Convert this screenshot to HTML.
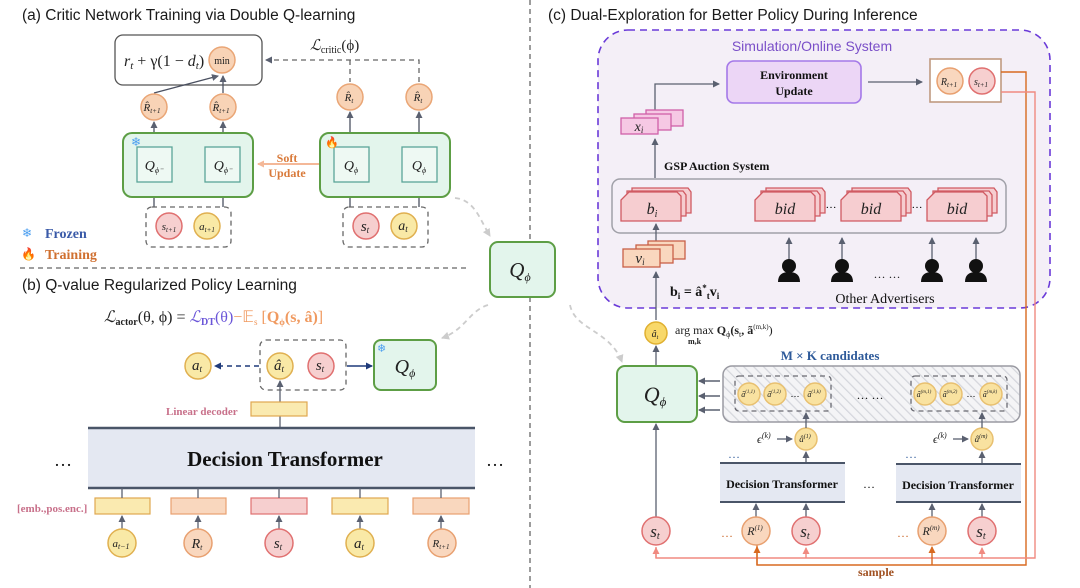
<!DOCTYPE html>
<html><head><meta charset="utf-8"><style>
html,body{margin:0;padding:0;background:#fff;}
svg{display:block;}
.t{font-family:"Liberation Sans",sans-serif;font-size:15.5px;fill:#1a1a1a;}
.m{font-family:"Liberation Serif",serif;font-style:italic;fill:#222;}
.b{font-family:"Liberation Serif",serif;font-weight:bold;fill:#111;}
</style></head><body>
<svg width="1080" height="588" viewBox="0 0 1080 588" xmlns="http://www.w3.org/2000/svg">
<defs>
<marker id="ag" markerWidth="8" markerHeight="8" refX="6" refY="4" orient="auto" markerUnits="userSpaceOnUse"><path d="M0,0.5 L7,4 L0,7.5 z" fill="#5a6070"/></marker>
<marker id="an" markerWidth="8" markerHeight="8" refX="6" refY="4" orient="auto" markerUnits="userSpaceOnUse"><path d="M0,0.5 L7,4 L0,7.5 z" fill="#1f3a7a"/></marker>
<marker id="ao" markerWidth="8" markerHeight="8" refX="6" refY="4" orient="auto" markerUnits="userSpaceOnUse"><path d="M0,0.5 L7,4 L0,7.5 z" fill="#f4b898"/></marker>
<marker id="al" markerWidth="10" markerHeight="10" refX="7" refY="5" orient="auto" markerUnits="userSpaceOnUse"><path d="M0,1 L8,5 L0,9 z" fill="#ccc"/></marker>
<marker id="ap" markerWidth="8" markerHeight="8" refX="6" refY="4" orient="auto" markerUnits="userSpaceOnUse"><path d="M0,0.5 L7,4 L0,7.5 z" fill="#f08a80"/></marker>
<marker id="ar" markerWidth="8" markerHeight="8" refX="6" refY="4" orient="auto" markerUnits="userSpaceOnUse"><path d="M0,0.5 L7,4 L0,7.5 z" fill="#d86a20"/></marker>
<pattern id="hatch" width="7" height="7" patternUnits="userSpaceOnUse" patternTransform="rotate(-45)"><rect width="7" height="7" fill="#f4f4f6"/><line x1="0" y1="0" x2="0" y2="7" stroke="#d4d6dc" stroke-width="2.5"/></pattern>
</defs>

<line x1="530" y1="0" x2="530" y2="588" stroke="#666" stroke-width="1.3" stroke-dasharray="5,4"/>
<line x1="20" y1="268" x2="468" y2="268" stroke="#666" stroke-width="1.3" stroke-dasharray="5,4"/>

<text class="t" x="22" y="20">(a) Critic Network Training via Double Q-learning</text>
<rect x="115" y="35" width="147" height="50" rx="8" fill="#fff" stroke="#555" stroke-width="1.3"/>
<text class="m" x="124" y="66" font-size="16">r<tspan font-size="11" dy="3">t</tspan><tspan dy="-3" font-style="normal"> + γ(1 − </tspan>d<tspan font-size="11" dy="3">t</tspan><tspan dy="-3" font-style="normal">)</tspan></text>
<circle cx="222" cy="60" r="13" fill="#f8d3b6" stroke="#eaa676" stroke-width="1.5"/>
<text x="222" y="64" text-anchor="middle" font-family="Liberation Serif" font-size="10" fill="#222">min</text>
<path d="M419,82 V60 H266" fill="none" stroke="#666" stroke-width="1.3" stroke-dasharray="5,4" marker-end="url(#ag)"/>
<line x1="350" y1="60" x2="350" y2="82" stroke="#666" stroke-width="1.3" stroke-dasharray="5,4"/>
<text class="m" x="310" y="50" font-size="15">ℒ<tspan font-style="normal" font-size="10" dy="3">critic</tspan><tspan dy="-3" font-style="normal">(ϕ)</tspan></text>
<line x1="154" y1="93" x2="218" y2="76" stroke="#4a5060" stroke-width="1.3" marker-end="url(#ag)"/>
<line x1="223" y1="93" x2="223" y2="76" stroke="#4a5060" stroke-width="1.3" marker-end="url(#ag)"/>
<g fill="#f8d3b6" stroke="#eaa676" stroke-width="1.5">
<circle cx="154" cy="107" r="13"/><circle cx="223" cy="107" r="13"/><circle cx="350" cy="97" r="13"/><circle cx="419" cy="97" r="13"/></g>
<g class="m" font-size="11" text-anchor="middle">
<text x="152" y="111">R̂<tspan font-size="7" dy="2">t+1</tspan></text>
<text x="221" y="111">R̂<tspan font-size="7" dy="2">t+1</tspan></text>
<text x="349" y="101">R̂<tspan font-size="7" dy="2">t</tspan></text>
<text x="418" y="101">R̂<tspan font-size="7" dy="2">t</tspan></text></g>
<g stroke="#4a5060" stroke-width="1.3">
<line x1="154" y1="147" x2="154" y2="122" marker-end="url(#ag)"/><line x1="223" y1="147" x2="223" y2="122" marker-end="url(#ag)"/>
<line x1="350" y1="147" x2="350" y2="112" marker-end="url(#ag)"/><line x1="419" y1="147" x2="419" y2="112" marker-end="url(#ag)"/>
<line x1="154" y1="207" x2="154" y2="184" marker-end="url(#ag)"/><line x1="223" y1="207" x2="223" y2="184" marker-end="url(#ag)"/>
<line x1="350" y1="207" x2="350" y2="184" marker-end="url(#ag)"/><line x1="419" y1="207" x2="419" y2="184" marker-end="url(#ag)"/></g>
<rect x="123" y="133" width="130" height="64" rx="9" fill="#e3f5ec" stroke="#5d9e45" stroke-width="2"/>
<rect x="320" y="133" width="130" height="64" rx="9" fill="#e3f5ec" stroke="#5d9e45" stroke-width="2"/>
<g fill="#eef9f3" stroke="#5aa598" stroke-width="1.3">
<rect x="137" y="147" width="35" height="35"/><rect x="205" y="147" width="35" height="35"/><rect x="334" y="147" width="35" height="35"/><rect x="402" y="147" width="35" height="35"/></g>
<g class="m" font-size="14" text-anchor="middle">
<text x="154" y="170">Q<tspan font-size="8" dy="3">ϕ⁻</tspan></text><text x="223" y="170">Q<tspan font-size="8" dy="3">ϕ⁻</tspan></text>
<text x="351" y="170">Q<tspan font-size="8" dy="3">ϕ</tspan></text><text x="419" y="170">Q<tspan font-size="8" dy="3">ϕ</tspan></text></g>
<text x="131" y="146" font-size="12" fill="#4a9ef0">❄</text>
<text x="325" y="146" font-size="11">🔥</text>
<line x1="319" y1="164" x2="258" y2="164" stroke="#f4b898" stroke-width="2" marker-end="url(#ao)"/>
<text class="b" x="287" y="162" font-size="12" text-anchor="middle" style="fill:#d97a3a">Soft</text>
<text class="b" x="287" y="177" font-size="12" text-anchor="middle" style="fill:#d97a3a">Update</text>
<rect x="146" y="207" width="85" height="40" rx="6" fill="none" stroke="#666" stroke-width="1.3" stroke-dasharray="5,4"/>
<rect x="343" y="207" width="85" height="40" rx="6" fill="none" stroke="#666" stroke-width="1.3" stroke-dasharray="5,4"/>
<circle cx="169" cy="226" r="13" fill="#f6cfcf" stroke="#e07070" stroke-width="1.5"/>
<circle cx="207" cy="226" r="13" fill="#f9e9a6" stroke="#e0b050" stroke-width="1.5"/>
<circle cx="366" cy="226" r="13" fill="#f6cfcf" stroke="#e07070" stroke-width="1.5"/>
<circle cx="404" cy="226" r="13" fill="#f9e9a6" stroke="#e0b050" stroke-width="1.5"/>
<g class="m" text-anchor="middle"><text x="169" y="230" font-size="11">s<tspan font-size="7" dy="2">t+1</tspan></text><text x="207" y="230" font-size="11">a<tspan font-size="7" dy="2">t+1</tspan></text>
<text x="365" y="231" font-size="15">s<tspan font-size="9" dy="2">t</tspan></text><text x="403" y="230" font-size="14">a<tspan font-size="9" dy="2">t</tspan></text></g>
<text x="22" y="237" font-size="12" fill="#4a9ef0">❄</text>
<text class="b" x="45" y="238" font-size="14" style="fill:#3a5aa8">Frozen</text>
<text x="21" y="258" font-size="12">🔥</text>
<text class="b" x="45" y="259" font-size="14" style="fill:#d07030">Training</text>

<text class="t" x="22" y="290">(b) Q-value Regularized Policy Learning</text>
<text class="m" x="104" y="322" font-size="16">ℒ<tspan font-style="normal" font-size="10" dy="3" font-weight="bold">actor</tspan><tspan dy="-3" font-style="normal">(θ, ϕ) = </tspan><tspan style="fill:#6a55d8">ℒ<tspan font-style="normal" font-size="10" dy="3" font-weight="bold">DT</tspan><tspan dy="-3" font-style="normal">(θ)</tspan></tspan><tspan style="fill:#f09a60" font-style="normal">−𝔼<tspan font-size="9" dy="3">s</tspan><tspan dy="-3"> [</tspan><tspan font-weight="bold">Q<tspan font-size="9" dy="3">ϕ</tspan><tspan dy="-3">(s, â)</tspan></tspan>]</tspan></text>
<rect x="260" y="340" width="86" height="50" rx="6" fill="none" stroke="#666" stroke-width="1.3" stroke-dasharray="5,4"/>
<line x1="259" y1="366" x2="215" y2="366" stroke="#1f3a7a" stroke-width="1.5" stroke-dasharray="5,4" marker-end="url(#an)"/>
<line x1="347" y1="366" x2="372" y2="366" stroke="#1f3a7a" stroke-width="1.5" marker-end="url(#an)"/>
<circle cx="198" cy="366" r="13" fill="#f9e9a6" stroke="#e0b050" stroke-width="1.5"/>
<circle cx="280" cy="366" r="13" fill="#f9e9a6" stroke="#e0b050" stroke-width="1.5"/>
<circle cx="321" cy="366" r="13" fill="#f6cfcf" stroke="#e07070" stroke-width="1.5"/>
<g class="m" text-anchor="middle" font-size="15"><text x="197" y="370">a<tspan font-size="9" dy="2">t</tspan></text><text x="279" y="370">â<tspan font-size="9" dy="2">t</tspan></text><text x="320" y="370">s<tspan font-size="9" dy="2">t</tspan></text></g>
<rect x="374" y="340" width="62" height="50" rx="7" fill="#e3f5ec" stroke="#5d9e45" stroke-width="2"/>
<text x="377" y="352" font-size="11" fill="#4a9ef0">❄</text>
<text class="m" x="405" y="373" font-size="20" text-anchor="middle">Q<tspan font-size="12" dy="4">ϕ</tspan></text>
<line x1="280" y1="428" x2="280" y2="381" stroke="#5a6070" stroke-width="1.3" marker-end="url(#ag)"/>
<rect x="251" y="402" width="56" height="14" fill="#faeab0" stroke="#e0a850" stroke-width="1.2"/>
<text class="b" x="166" y="415" font-size="11" style="fill:#c8708a">Linear decoder</text>
<rect x="88" y="428" width="387" height="60" fill="#e4e8f2"/>
<line x1="88" y1="428" x2="475" y2="428" stroke="#4a5568" stroke-width="2.5"/>
<line x1="88" y1="488" x2="475" y2="488" stroke="#4a5568" stroke-width="2.5"/>
<text class="b" x="285" y="466" font-size="21" text-anchor="middle">Decision Transformer</text>
<text x="63" y="466" font-size="18" text-anchor="middle" fill="#111">…</text>
<text x="495" y="466" font-size="18" text-anchor="middle" fill="#111">…</text>
<text class="b" x="17" y="512" font-size="11" style="fill:#c8708a">[emb.,pos.enc.]</text>
<g stroke-width="1.2">
<rect x="95" y="498" width="55" height="16" fill="#faeab0" stroke="#e0a850"/>
<rect x="171" y="498" width="55" height="16" fill="#f9d7be" stroke="#e8a070"/>
<rect x="251" y="498" width="56" height="16" fill="#f6cfcf" stroke="#e07070"/>
<rect x="332" y="498" width="56" height="16" fill="#faeab0" stroke="#e0a850"/>
<rect x="413" y="498" width="56" height="16" fill="#f9d7be" stroke="#e8a070"/></g>
<g stroke="#5a6070" stroke-width="1.3">
<line x1="122" y1="488" x2="122" y2="498"/><line x1="198" y1="488" x2="198" y2="498"/><line x1="279" y1="488" x2="279" y2="498"/><line x1="360" y1="488" x2="360" y2="498"/><line x1="441" y1="488" x2="441" y2="498"/>
<line x1="122" y1="529" x2="122" y2="516" marker-end="url(#ag)"/><line x1="198" y1="529" x2="198" y2="516" marker-end="url(#ag)"/><line x1="279" y1="529" x2="279" y2="516" marker-end="url(#ag)"/><line x1="360" y1="529" x2="360" y2="516" marker-end="url(#ag)"/><line x1="441" y1="529" x2="441" y2="516" marker-end="url(#ag)"/></g>
<circle cx="122" cy="543" r="14" fill="#f9e9a6" stroke="#e0b050" stroke-width="1.5"/>
<circle cx="198" cy="543" r="14" fill="#f9d7be" stroke="#e8a070" stroke-width="1.5"/>
<circle cx="279" cy="543" r="14" fill="#f6cfcf" stroke="#e07070" stroke-width="1.5"/>
<circle cx="360" cy="543" r="14" fill="#f9e9a6" stroke="#e0b050" stroke-width="1.5"/>
<circle cx="442" cy="543" r="14" fill="#f9d7be" stroke="#e8a070" stroke-width="1.5"/>
<g class="m" text-anchor="middle"><text x="121" y="547" font-size="11">a<tspan font-size="8" dy="2">t−1</tspan></text><text x="197" y="548" font-size="14">R<tspan font-size="8" dy="2">t</tspan></text><text x="278" y="548" font-size="15">s<tspan font-size="9" dy="2">t</tspan></text><text x="359" y="548" font-size="15">a<tspan font-size="9" dy="2">t</tspan></text><text x="441" y="547" font-size="11">R<tspan font-size="7" dy="2">t+1</tspan></text></g>

<rect x="490" y="242" width="65" height="55" rx="8" fill="#e3f5ec" stroke="#5d9e45" stroke-width="2"/>
<text class="m" x="520" y="277" font-size="21" text-anchor="middle">Q<tspan font-size="12" dy="4">ϕ</tspan></text>
<path d="M455,198 C475,200 480,220 490,236" fill="none" stroke="#ccc" stroke-width="1.8" stroke-dasharray="5,4" marker-end="url(#al)"/>
<path d="M488,305 C470,310 465,330 442,338" fill="none" stroke="#ccc" stroke-width="1.8" stroke-dasharray="5,4" marker-end="url(#al)"/>
<path d="M570,305 C575,330 610,330 622,362" fill="none" stroke="#ccc" stroke-width="1.8" stroke-dasharray="5,4" marker-end="url(#al)"/>

<text class="t" x="548" y="20">(c) Dual-Exploration for Better Policy During Inference</text>
<rect x="598" y="30" width="452" height="278" rx="30" fill="#f4eff7" stroke="#6a3ad8" stroke-width="1.6" stroke-dasharray="7,5"/>
<text x="812" y="51" font-family="Liberation Sans" font-size="14" text-anchor="middle" fill="#7a4fc8">Simulation/Online System</text>
<rect x="727" y="61" width="134" height="42" rx="7" fill="#ecd6f6" stroke="#a478e8" stroke-width="1.6"/>
<text class="b" x="794" y="79" font-size="12" text-anchor="middle">Environment</text>
<text class="b" x="794" y="95" font-size="12" text-anchor="middle">Update</text>
<line x1="868" y1="82" x2="922" y2="82" stroke="#5a6070" stroke-width="1.3" marker-end="url(#ag)"/>
<rect x="930" y="59" width="71" height="43" fill="#fff" stroke="#c09a80" stroke-width="1.6"/>
<circle cx="950" cy="81" r="13" fill="#f9d7be" stroke="#e8a070" stroke-width="1.5"/>
<circle cx="982" cy="81" r="13" fill="#f6cfcf" stroke="#e07070" stroke-width="1.5"/>
<g class="m" text-anchor="middle" font-size="10"><text x="949" y="85">R<tspan font-size="7" dy="2">t+1</tspan></text><text x="981" y="85">s<tspan font-size="7" dy="2">t+1</tspan></text></g>
<path d="M1001,72 H1026 V565 H757 V540" fill="none" stroke="#d86a20" stroke-width="1.4"/>
<path d="M1001,92 H1035 V558 H656 V547" fill="none" stroke="#f08a80" stroke-width="1.4"/>
<line x1="806" y1="558" x2="806" y2="548" stroke="#f08a80" stroke-width="1.4" marker-end="url(#ap)"/>
<line x1="982" y1="558" x2="982" y2="548" stroke="#f08a80" stroke-width="1.4" marker-end="url(#ap)"/>
<line x1="656" y1="558" x2="656" y2="548" stroke="#f08a80" stroke-width="1.4" marker-end="url(#ap)"/>
<line x1="757" y1="565" x2="757" y2="547" stroke="#d86a20" stroke-width="1.4" marker-end="url(#ar)"/>
<line x1="932" y1="565" x2="932" y2="547" stroke="#d86a20" stroke-width="1.4" marker-end="url(#ar)"/>
<text class="b" x="876" y="576" font-size="12" text-anchor="middle" style="fill:#a05020">sample</text>
<path d="M655,115 V84 H719" fill="none" stroke="#5a6070" stroke-width="1.3" marker-end="url(#ag)"/>
<g fill="#f6c8e4" stroke="#d060a8" stroke-width="1.3"><rect x="646" y="110" width="37" height="16"/><rect x="634" y="114" width="37" height="16"/><rect x="621" y="118" width="37" height="16"/></g>
<text class="m" x="639" y="131" font-size="14" text-anchor="middle">x<tspan font-size="9" dy="2">i</tspan></text>
<line x1="655" y1="178" x2="655" y2="139" stroke="#5a6070" stroke-width="1.3" marker-end="url(#ag)"/>
<text class="b" x="664" y="170" font-size="12">GSP Auction System</text>
<rect x="612" y="179" width="394" height="54" rx="8" fill="#f4eff7" stroke="#a0a0a8" stroke-width="1.5"/>
<g fill="#f6cdd0" stroke="#d05a62" stroke-width="1.3">
<g id="card"><path d="M632,188 H688 L691,192 V213 H632 Z"/><path d="M627,191 H683 L686,195 V216 H627 Z"/><path d="M625,196 L629,192 H677 L681,196 V221 H621 V200 Z"/></g>
<use href="#card" x="134"/><use href="#card" x="220"/><use href="#card" x="306"/></g>
<g class="m" text-anchor="middle" font-size="16"><text x="652" y="214">b<tspan font-size="10" dy="3">i</tspan></text><text x="785" y="214">bid</text><text x="871" y="214">bid</text><text x="957" y="214">bid</text></g>
<text x="831" y="208" font-size="11" text-anchor="middle">…</text><text x="917" y="208" font-size="11" text-anchor="middle">…</text>
<g stroke="#5a6070" stroke-width="1.3">
<line x1="789" y1="262" x2="789" y2="238" marker-end="url(#ag)"/><line x1="842" y1="262" x2="842" y2="238" marker-end="url(#ag)"/><line x1="932" y1="262" x2="932" y2="238" marker-end="url(#ag)"/><line x1="976" y1="262" x2="976" y2="238" marker-end="url(#ag)"/>
<line x1="656" y1="243" x2="656" y2="224" marker-end="url(#ag)"/></g>
<g fill="#111">
<g id="person"><circle cx="789" cy="266" r="7"/><path d="M778,282 Q778,272 789,272 Q800,272 800,282 Z"/></g>
<use href="#person" x="53"/><use href="#person" x="143"/><use href="#person" x="187"/></g>
<text x="887" y="278" font-size="12" text-anchor="middle" fill="#111">… …</text>
<g fill="#f9d7be" stroke="#c86048" stroke-width="1.3"><rect x="648" y="241" width="37" height="18"/><rect x="636" y="245" width="37" height="18"/><rect x="623" y="249" width="37" height="18"/></g>
<text class="m" x="640" y="263" font-size="15" text-anchor="middle">v<tspan font-size="9" dy="2">i</tspan></text>
<text class="b" x="670" y="296" font-size="14">b<tspan font-size="9" dy="3">i</tspan><tspan dy="-3"> = â</tspan><tspan font-size="9" dy="-5">*</tspan><tspan font-size="9" dy="8">t</tspan><tspan dy="-3">v</tspan><tspan font-size="9" dy="3">i</tspan></text>
<text x="885" y="303" font-family="Liberation Serif" font-size="14" text-anchor="middle" fill="#111">Other Advertisers</text>
<line x1="656" y1="320" x2="656" y2="272" stroke="#5a6070" stroke-width="1.3" marker-end="url(#ag)"/>
<circle cx="656" cy="333" r="11" fill="#f8d86a" stroke="#e0b030" stroke-width="1.5"/>
<text class="m" x="655" y="337" font-size="10" text-anchor="middle">â<tspan font-size="6" dy="2">t</tspan></text>
<text x="675" y="334" font-family="Liberation Serif" font-size="12" fill="#222">arg max <tspan font-weight="bold">Q</tspan><tspan font-size="8" dy="3">ϕ</tspan><tspan dy="-3" font-weight="bold">(s</tspan><tspan font-size="8" dy="3">t</tspan><tspan dy="-3" font-weight="bold">, ã</tspan><tspan font-size="7" dy="-5">(m,k)</tspan><tspan dy="5">)</tspan></text>
<text x="688" y="344" font-family="Liberation Serif" font-weight="bold" font-size="8" fill="#222">m,k</text>
<line x1="656" y1="366" x2="656" y2="346" stroke="#5a6070" stroke-width="1.3" marker-end="url(#ag)"/>
<rect x="617" y="366" width="80" height="56" rx="8" fill="#e3f5ec" stroke="#5d9e45" stroke-width="2"/>
<text class="m" x="655" y="402" font-size="22" text-anchor="middle">Q<tspan font-size="13" dy="4">ϕ</tspan></text>
<line x1="656" y1="517" x2="656" y2="424" stroke="#5a6070" stroke-width="1.3" marker-end="url(#ag)"/>
<text class="b" x="830" y="360" font-size="13" text-anchor="middle" style="fill:#2e5a9a">M × K candidates</text>
<rect x="723" y="366" width="297" height="56" rx="9" fill="url(#hatch)" stroke="#9a9aa2" stroke-width="1.5"/>
<g stroke="#5a6070" stroke-width="1.5"><line x1="720" y1="381" x2="699" y2="381" marker-end="url(#ag)"/><line x1="720" y1="396" x2="699" y2="396" marker-end="url(#ag)"/><line x1="720" y1="410" x2="699" y2="410" marker-end="url(#ag)"/></g>
<rect x="735" y="376" width="96" height="35" rx="4" fill="none" stroke="#6a6a72" stroke-width="1.3" stroke-dasharray="5,4"/>
<rect x="911" y="376" width="96" height="35" rx="4" fill="none" stroke="#6a6a72" stroke-width="1.3" stroke-dasharray="5,4"/>
<g fill="#f9e2a0" stroke="#e8c070" stroke-width="1.5">
<circle cx="749" cy="394" r="11"/><circle cx="775" cy="394" r="11"/><circle cx="815" cy="394" r="11"/>
<circle cx="925" cy="394" r="11"/><circle cx="951" cy="394" r="11"/><circle cx="991" cy="394" r="11"/>
<circle cx="806" cy="439" r="11"/><circle cx="982" cy="439" r="11"/></g>
<g class="m" font-size="8" text-anchor="middle">
<text x="748" y="397">ã<tspan font-size="5" dy="-4">(1,1)</tspan></text><text x="774" y="397">ã<tspan font-size="5" dy="-4">(1,2)</tspan></text><text x="814" y="397">ã<tspan font-size="5" dy="-4">(1,k)</tspan></text>
<text x="924" y="397">ã<tspan font-size="5" dy="-4">(m,1)</tspan></text><text x="950" y="397">ã<tspan font-size="5" dy="-4">(m,2)</tspan></text><text x="990" y="397">ã<tspan font-size="5" dy="-4">(m,k)</tspan></text>
<text x="805" y="442" font-size="9">â<tspan font-size="6" dy="-4">(1)</tspan></text><text x="981" y="442" font-size="9">â<tspan font-size="6" dy="-4">(m)</tspan></text></g>
<text x="795" y="397" font-size="9" text-anchor="middle">…</text><text x="971" y="397" font-size="9" text-anchor="middle">…</text>
<text x="870" y="399" font-size="12" text-anchor="middle">… …</text>
<g stroke="#5a6070" stroke-width="1.3">
<line x1="806" y1="428" x2="806" y2="413" marker-end="url(#ag)"/><line x1="982" y1="428" x2="982" y2="413" marker-end="url(#ag)"/>
<line x1="806" y1="463" x2="806" y2="452" marker-end="url(#ag)"/><line x1="982" y1="463" x2="982" y2="452" marker-end="url(#ag)"/>
<line x1="777" y1="439" x2="792" y2="439" marker-end="url(#ag)"/><line x1="953" y1="439" x2="968" y2="439" marker-end="url(#ag)"/>
<line x1="756" y1="517" x2="756" y2="504" marker-end="url(#ag)"/><line x1="806" y1="517" x2="806" y2="504" marker-end="url(#ag)"/>
<line x1="932" y1="517" x2="932" y2="504" marker-end="url(#ag)"/><line x1="982" y1="517" x2="982" y2="504" marker-end="url(#ag)"/></g>
<text class="m" x="757" y="443" font-size="12">ϵ<tspan font-size="8" dy="-5">(k)</tspan></text>
<text class="m" x="933" y="443" font-size="12">ϵ<tspan font-size="8" dy="-5">(k)</tspan></text>
<text x="728" y="458" font-size="12" fill="#2e5a9a">…</text><text x="905" y="458" font-size="12" fill="#2e5a9a">…</text>
<rect x="720" y="463" width="125" height="39" fill="#e4e8f2"/><rect x="896" y="464" width="125" height="38" fill="#e4e8f2"/>
<g stroke="#4a5568" stroke-width="2"><line x1="720" y1="463" x2="845" y2="463"/><line x1="720" y1="502" x2="845" y2="502"/><line x1="896" y1="464" x2="1021" y2="464"/><line x1="896" y1="502" x2="1021" y2="502"/></g>
<text class="b" x="782" y="488" font-size="12" text-anchor="middle">Decision Transformer</text>
<text class="b" x="958" y="489" font-size="12" text-anchor="middle">Decision Transformer</text>
<text x="869" y="488" font-size="12" text-anchor="middle">…</text>
<circle cx="656" cy="531" r="14" fill="#f6cfcf" stroke="#e07070" stroke-width="1.5"/>
<circle cx="756" cy="531" r="14" fill="#f9d7be" stroke="#e8a070" stroke-width="1.5"/>
<circle cx="806" cy="531" r="14" fill="#f6cfcf" stroke="#e07070" stroke-width="1.5"/>
<circle cx="932" cy="531" r="14" fill="#f9d7be" stroke="#e8a070" stroke-width="1.5"/>
<circle cx="982" cy="531" r="14" fill="#f6cfcf" stroke="#e07070" stroke-width="1.5"/>
<g class="m" text-anchor="middle"><text x="655" y="537" font-size="17">s<tspan font-size="10" dy="2">t</tspan></text><text x="805" y="537" font-size="17">s<tspan font-size="10" dy="2">t</tspan></text><text x="981" y="537" font-size="17">s<tspan font-size="10" dy="2">t</tspan></text>
<text x="755" y="535" font-size="12">R<tspan font-size="7" dy="-5">(1)</tspan></text><text x="931" y="535" font-size="12">R<tspan font-size="7" dy="-5">(m)</tspan></text></g>
<text x="727" y="537" font-size="12" text-anchor="middle" fill="#c86020">…</text><text x="903" y="537" font-size="12" text-anchor="middle" fill="#c86020">…</text>
</svg>
</body></html>
